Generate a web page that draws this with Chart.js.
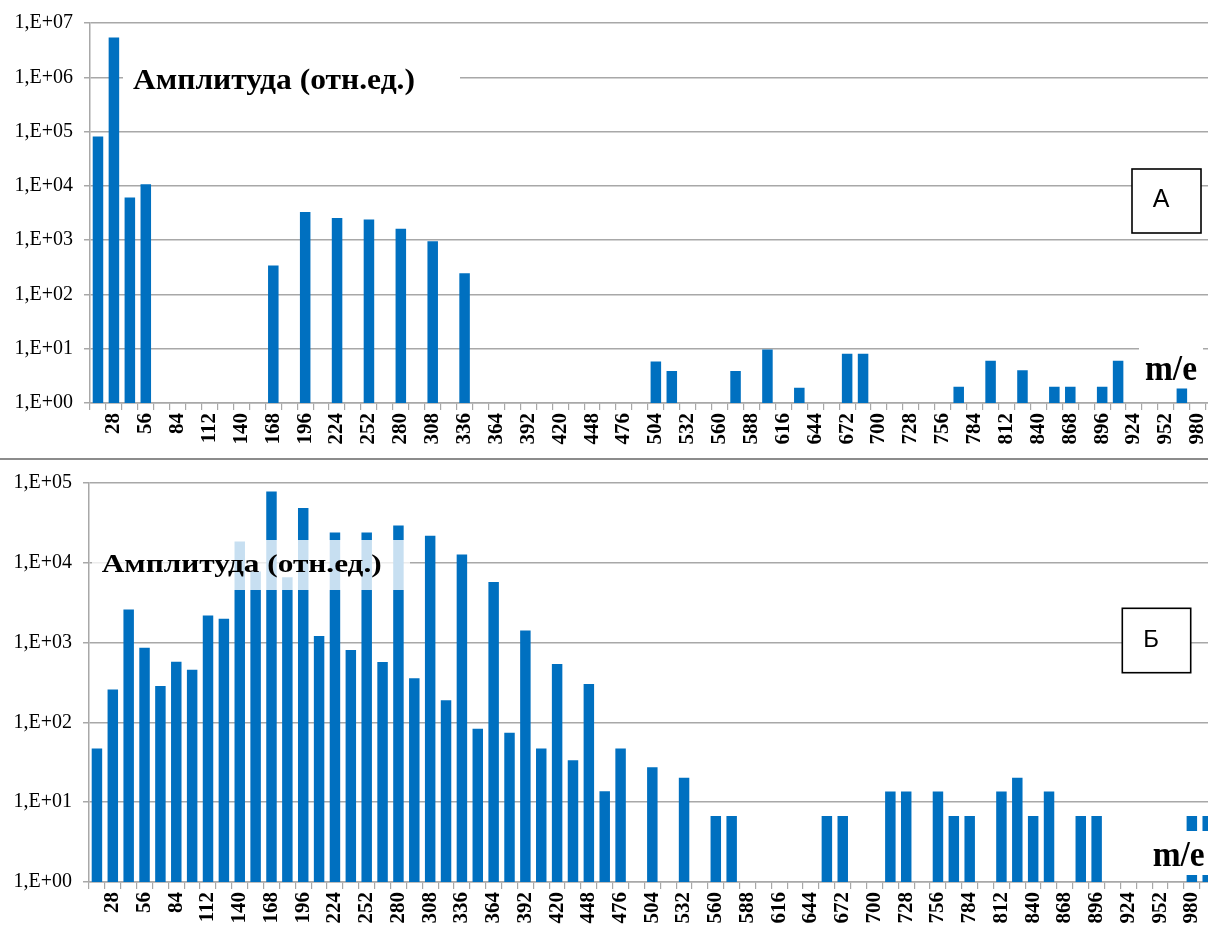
<!DOCTYPE html>
<html>
<head>
<meta charset="utf-8">
<script src="https://cdn.jsdelivr.net/npm/chart.js@4.4.0/dist/chart.umd.min.js"></script>
<style>
html, body { margin: 0; padding: 0; background: #fff; overflow: hidden; width: 1208px; height: 926px; }
#topChart { position: absolute; left: 0; top: 0; }
#sep { position: absolute; left: 0; top: 458px; width: 1208px; height: 2px; background: #8c8c8c; }
#botChart { position: absolute; left: 0; top: 460px; }
</style>
</head>
<body>
<canvas id="topChart" width="1242" height="456"></canvas>
<div id="sep"></div>
<canvas id="botChart" width="1236" height="472"></canvas>
<script>
// DATA
const massLabels = [14, 28, 42, 56, 70, 84, 98, 112, 126, 140, 154, 168, 182, 196, 210, 224, 238, 252, 266, 280,
  294, 308, 322, 336, 350, 364, 378, 392, 406, 420, 434, 448, 462, 476, 490, 504, 518, 532, 546, 560,
  574, 588, 602, 616, 630, 644, 658, 672, 686, 700, 714, 728, 742, 756, 770, 784, 798, 812, 826, 840,
  854, 868, 882, 896, 910, 924, 938, 952, 966, 980, 994];

// A: amplitude (rel. units)
const ampTop = [81000, 5400000, 6100, 10700, null, null, null, null, null, null, null, 340, null, 3300, null, 2550, null, 2400, null, 1620,
  null, 950, null, 245, null, null, null, null, null, null, null, null, null, null, null, 5.8, 3.9, null, null, null,
  3.9, null, 9.7, null, 1.9, null, null, 8.1, 8.1, null, null, null, null, null, 2, null, 6, null, 4, null,
  2, 2, null, 2, 6, null, null, null, 1.85, null, null];

// Б: amplitude (rel. units)
const ampBottom = [47, 258, 2600, 860, 286, 577, 456, 2190, 1990, 18500, 7800, 78000, 6600, 48500, 1210, 24000, 808, 24000, 570, 29300,
  358, 21900, 190, 12700, 83, 5750, 74, 1415, 47, 540, 33.6, 303, 13.7, 47, null, 27.4, null, 20.3, null, 6.7,
  6.7, null, null, null, null, null, 6.7, 6.7, null, null, 13.6, 13.6, null, 13.6, 6.7, 6.7, null, 13.6, 20.2, 6.7,
  13.6, null, 6.7, 6.7, null, null, null, null, null, 6.7, 6.7];

const yTicksTop = [1, 10, 100, 1000, 10000, 100000, 1000000, 10000000];
const yTicksBottom = [1, 10, 100, 1000, 10000, 100000];

const BAR_BLUE = '#0070c0';
const GRID_GRAY = '#a8a8a8';

// text boxes drawn on top of the plot (kept in a closure, not in chart options)
function notesPlugin(items) {
  return {
    id: 'notes',
    afterDraw(chart) {
      const ctx = chart.ctx;
      items.forEach(it => {
        ctx.save();
        if (it.box) {
          ctx.fillStyle = it.bg ? it.bg : '#ffffff';
          ctx.fillRect(it.box[0], it.box[1], it.box[2], it.box[3]);
          if (it.frame) {
            ctx.strokeStyle = '#000000';
            ctx.lineWidth = 1.6;
            ctx.strokeRect(it.box[0], it.box[1], it.box[2], it.box[3]);
          }
        }
        ctx.font = it.font;
        ctx.fillStyle = '#000000';
        ctx.textBaseline = 'alphabetic';
        ctx.textAlign = it.align || 'left';
        const w = ctx.measureText(it.text).width;
        const sx = it.width ? it.width / w : 1;
        ctx.translate(it.x, it.y);
        ctx.scale(sx, 1);
        ctx.fillText(it.text, 0, 0);
        ctx.restore();
      });
    }
  };
}

function expLabel(v) {
  const e = Math.round(Math.log10(v));
  return '1,E+' + String(e).padStart(2, '0');
}

function makeChart(canvasId, values, yMax, yTicks, axisW, axisH, pad, notes) {
  return new Chart(document.getElementById(canvasId), {
    type: 'bar',
    data: {
      labels: massLabels,
      datasets: [{
        data: values,
        backgroundColor: BAR_BLUE,
        borderWidth: 0,
        barPercentage: 0.66,
        categoryPercentage: 1.0
      }]
    },
    options: {
      responsive: false,
      animation: false,
      layout: { padding: pad },
      plugins: {
        legend: { display: false },
        tooltip: { enabled: false }
      },
      scales: {
        x: {
          type: 'category',
          offset: true,
          afterFit: (s) => { s.height = axisH; },
          grid: { display: true, drawOnChartArea: false, drawTicks: true, tickLength: 7, offset: true, color: GRID_GRAY, lineWidth: 1.2 },
          border: { display: true, color: GRID_GRAY, width: 1.5 },
          ticks: {
            autoSkip: false,
            minRotation: 90,
            maxRotation: 90,
            padding: 3,
            color: '#000',
            font: { family: '"Liberation Serif", serif', size: 21, weight: 'bold' },
            callback: function (val, idx) { return idx % 2 === 1 ? String(this.getLabelForValue(val)) : ''; }
          }
        },
        y: {
          type: 'logarithmic',
          min: 1,
          max: yMax,
          afterFit: (s) => { s.width = axisW; },
          afterBuildTicks: (s) => { s.ticks = yTicks.map(v => ({ value: v })); },
          grid: { color: GRID_GRAY, lineWidth: 1.5, drawTicks: true, tickLength: 6 },
          border: { display: true, color: GRID_GRAY, width: 1.5 },
          ticks: {
            padding: 11,
            color: '#000',
            font: { family: '"Liberation Serif", serif', size: 20 },
            callback: (v) => expLabel(v)
          }
        }
      }
    },
    plugins: [notesPlugin(notes)]
  });
}

makeChart('topChart', ampTop, 10000000, yTicksTop, 90, 53,
  { top: 22, right: 8, left: 0, bottom: 0 },
  [
    { box: [123, 57, 337, 42], text: 'Амплитуда (отн.ед.)', x: 133, y: 89, width: 282, font: 'bold 29px "Liberation Serif"' },
    { box: [1139, 338, 64, 48], text: 'm/e', x: 1145, y: 380, width: 52, font: 'bold 35px "Liberation Serif"' },
    { box: [1132, 169, 69, 64], frame: true, text: 'A', x: 1161, y: 207, align: 'center', font: '25px "Liberation Sans"' }
  ]);

makeChart('botChart', ampBottom, 100000, yTicksBottom, 89, 50,
  { top: 11.5, right: 12, left: 0, bottom: 0 },
  [
    { box: [92, 80, 318, 50], bg: 'rgba(255,255,255,0.78)', text: 'Амплитуда (отн.ед.)', x: 101.7, y: 112, width: 280, font: 'bold 26px "Liberation Serif"' },
    { box: [1140, 371, 90, 44], text: 'm/e', x: 1152.7, y: 406, width: 52, font: 'bold 35px "Liberation Serif"' },
    { box: [1122.3, 148.3, 68.4, 64.4], frame: true, text: 'Б', x: 1151, y: 187, align: 'center', font: '24px "Liberation Sans"' }
  ]);
</script>
</body>
</html>
